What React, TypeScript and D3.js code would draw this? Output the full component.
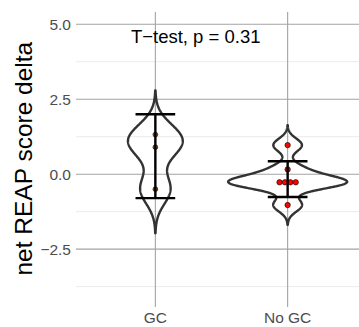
import React from "react";
import * as d3 from "d3";

const categories = ["GC", "No GC"];
const gcValues = [1.32, 0.9, -0.5];
const noGcValues = [0.97, 0.16, -0.27, -0.27, -0.27, -0.27, -1.03];
const groupValues = [gcValues, noGcValues];

// kernel bandwidth per group (from the tail length of the violins)
const bandwidths = [0.49, 0.22];

// mean and sd shown by the error bars
const means = [0.6, -0.165];
const sds = [1.4, 0.595];

const yMajor = [-2.5, 0, 2.5, 5];
const yMinor = [-3.75, -1.25, 1.25, 3.75];

const annotation = "T\u2212test, p = 0.31";
const yTitle = "net REAP score delta";

const W = 359;
const H = 327;
const FONT = "'Liberation Sans', Arial, Helvetica, sans-serif";

function kde(values: number[], bw: number) {
  const lo = d3.min(values)! - 3 * bw;
  const hi = d3.max(values)! + 3 * bw;
  const n = values.length;
  const k = 1 / (n * bw * Math.sqrt(2 * Math.PI));
  return d3.range(0, 257).map((i) => {
    const v = lo + ((hi - lo) * i) / 256;
    const d = d3.sum(values, (xi) => Math.exp(-0.5 * ((v - xi) / bw) ** 2)) * k;
    return [v, d] as [number, number];
  });
}

export default function App() {
  const panel = { left: 76, right: 367, top: 12, bottom: 307 };

  const x = d3
    .scalePoint<string>()
    .domain(categories)
    .range([panel.left, panel.right])
    .padding(0.6);
  const step = x.step();

  const y = d3.scaleLinear().domain([-4.43, 5.41]).range([panel.bottom, panel.top]);
  const fmt = d3.format(".1f");

  const densities = groupValues.map((vals, i) => kde(vals, bandwidths[i]));
  const maxD = d3.max(densities.flat(), (d) => d[1])!;
  const w = d3.scaleLinear().domain([0, maxD]).range([0, 0.45 * step]);

  const line = d3.line<[number, number]>();

  const violins = densities.map((dens, i) => {
    const cx = x(categories[i])!;
    const right = dens.map(([v, d]) => [cx + w(d), y(v)] as [number, number]);
    const left = dens.map(([v, d]) => [cx - w(d), y(v)] as [number, number]).reverse();
    return line(right.concat(left)) + "Z";
  });

  const dotD = 5.4;
  const dots = groupValues.flatMap((vals, i) => {
    const cx = x(categories[i])!;
    const bins = d3.groups(vals, (v) => v);
    return bins.flatMap(([v, arr]) =>
      arr.map((_, j) => ({
        key: `${i}-${v}-${j}`,
        cx: cx + (j - (arr.length - 1) / 2) * dotD,
        cy: y(v),
        g: i,
      }))
    );
  });

  const capHalf = 0.15 * step;

  return (
    <svg
      width={W}
      height={H}
      style={{ position: "absolute", left: 0, top: 0, background: "#fff" }}
      fontFamily={FONT}
    >
      {/* grid */}
      {yMinor.map((t) => (
        <line key={`mi${t}`} x1={panel.left} x2={W} y1={y(t)} y2={y(t)} stroke="#ebebeb" strokeWidth={1} />
      ))}
      {yMajor.map((t) => (
        <line key={`ma${t}`} x1={panel.left} x2={W} y1={y(t)} y2={y(t)} stroke="#a3a3a3" strokeWidth={1.1} />
      ))}
      {categories.map((c) => (
        <line key={`v${c}`} x1={x(c)} x2={x(c)} y1={panel.top} y2={panel.bottom} stroke="#a3a3a3" strokeWidth={1.1} />
      ))}

      {/* violins */}
      {violins.map((p, i) => (
        <path key={`vio${i}`} d={p} fill="none" stroke="#333333" strokeWidth={2.4} strokeLinejoin="round" />
      ))}

      {/* dots */}
      {dots.map((d) => (
        <circle
          key={d.key}
          cx={d.cx}
          cy={d.cy}
          r={d.g === 0 ? 2.4 : 2.7}
          fill={d.g === 0 ? "#a35200" : "#ff0000"}
          stroke="#000"
          strokeWidth={0.6}
        />
      ))}

      {/* error bars */}
      {categories.map((c, i) => {
        const cx = x(c)!;
        const lo = y(means[i] - sds[i]);
        const hi = y(means[i] + sds[i]);
        return (
          <g key={`eb${c}`} stroke="#000" strokeWidth={2.4}>
            <line x1={cx} x2={cx} y1={hi} y2={lo} />
            <line x1={cx - capHalf} x2={cx + capHalf} y1={hi} y2={hi} />
            <line x1={cx - capHalf} x2={cx + capHalf} y1={lo} y2={lo} />
          </g>
        );
      })}

      {/* y tick labels */}
      {yMajor.map((t) => (
        <text
          key={`yt${t}`}
          x={71}
          y={y(t)}
          textAnchor="end"
          dominantBaseline="central"
          fontSize={15.5}
          fill="#4d4d4d"
        >
          {fmt(t)}
        </text>
      ))}

      {/* x tick labels */}
      {categories.map((c) => (
        <text key={`xt${c}`} x={x(c)} y={323} textAnchor="middle" fontSize={15.5} fill="#4d4d4d">
          {c}
        </text>
      ))}

      {/* axis title */}
      <text
        transform={`translate(32, ${(y(5.4) + y(-4.43)) / 2 - 1}) rotate(-90)`}
        textAnchor="middle"
        fontSize={24.5}
        fill="#000"
      >
        {yTitle}
      </text>

      {/* test annotation */}
      <text
        x={x(categories[0])! + 0.305 * step}
        y={y(4.59)}
        textAnchor="middle"
        dominantBaseline="central"
        fontSize={18.5}
        fill="#000"
      >
        {annotation}
      </text>
    </svg>
  );
}
